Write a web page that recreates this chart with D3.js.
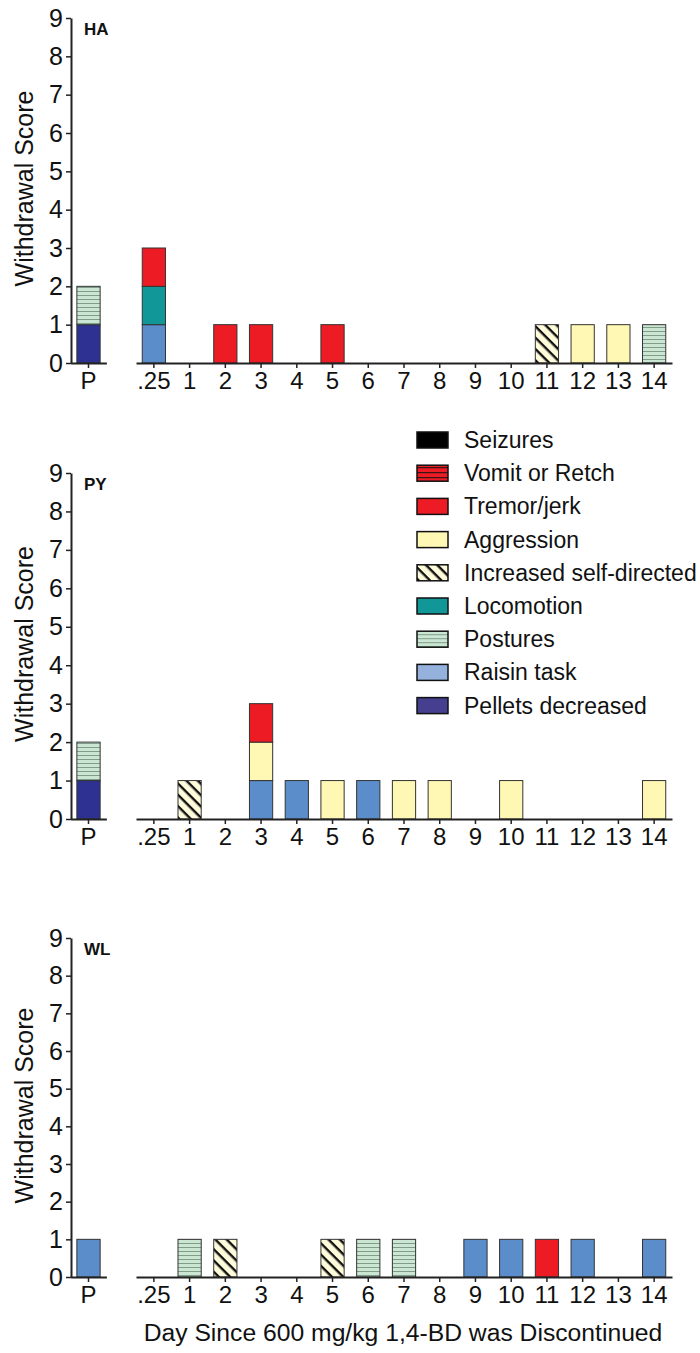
<!DOCTYPE html>
<html>
<head>
<meta charset="utf-8">
<script src="https://cdn.jsdelivr.net/npm/d3@7"></script>
<style>
  body { margin: 0; background: #fff; }
  svg { display: block; font-family: "Liberation Sans", Arial, sans-serif; }
</style>
</head>
<body>
<div id="chart"></div>
<script>
// x categories: P (pre) then days since discontinuation
const xLabels = ["P", ".25", "1", "2", "3", "4", "5", "6", "7", "8", "9", "10", "11", "12", "13", "14"];
const dayLabels = xLabels.slice(1);

// legend order (top to bottom); bars stack in reverse
const categories = ["Seizures", "Vomit or Retch", "Tremor/jerk", "Aggression", "Increased self-directed",
    "Locomotion", "Postures", "Raisin task", "Pellets decreased"];
const stackOrder = categories.slice().reverse();

const yTicks = [0, 1, 2, 3, 4, 5, 6, 7, 8, 9];

// scores per category, indexed like xLabels
const haScores = {
    "Pellets decreased":       [1, 0, 0, 0, 0, 0, 0, 0, 0, 0, 0, 0, 0, 0, 0, 0],
    "Raisin task":             [0, 1, 0, 0, 0, 0, 0, 0, 0, 0, 0, 0, 0, 0, 0, 0],
    "Postures":                [1, 0, 0, 0, 0, 0, 0, 0, 0, 0, 0, 0, 0, 0, 0, 1],
    "Locomotion":              [0, 1, 0, 0, 0, 0, 0, 0, 0, 0, 0, 0, 0, 0, 0, 0],
    "Increased self-directed": [0, 0, 0, 0, 0, 0, 0, 0, 0, 0, 0, 0, 1, 0, 0, 0],
    "Aggression":              [0, 0, 0, 0, 0, 0, 0, 0, 0, 0, 0, 0, 0, 1, 1, 0],
    "Tremor/jerk":             [0, 1, 0, 1, 1, 0, 1, 0, 0, 0, 0, 0, 0, 0, 0, 0]
};
const pyScores = {
    "Pellets decreased":       [1, 0, 0, 0, 0, 0, 0, 0, 0, 0, 0, 0, 0, 0, 0, 0],
    "Raisin task":             [0, 0, 0, 0, 1, 1, 0, 1, 0, 0, 0, 0, 0, 0, 0, 0],
    "Postures":                [1, 0, 0, 0, 0, 0, 0, 0, 0, 0, 0, 0, 0, 0, 0, 0],
    "Increased self-directed": [0, 0, 1, 0, 0, 0, 0, 0, 0, 0, 0, 0, 0, 0, 0, 0],
    "Aggression":              [0, 0, 0, 0, 1, 0, 1, 0, 1, 1, 0, 1, 0, 0, 0, 1],
    "Tremor/jerk":             [0, 0, 0, 0, 1, 0, 0, 0, 0, 0, 0, 0, 0, 0, 0, 0]
};
const wlScores = {
    "Raisin task":             [1, 0, 0, 0, 0, 0, 0, 0, 0, 0, 1, 1, 0, 1, 0, 1],
    "Postures":                [0, 0, 1, 0, 0, 0, 0, 1, 1, 0, 0, 0, 0, 0, 0, 0],
    "Increased self-directed": [0, 0, 0, 1, 0, 0, 1, 0, 0, 0, 0, 0, 0, 0, 0, 0],
    "Tremor/jerk":             [0, 0, 0, 0, 0, 0, 0, 0, 0, 0, 0, 0, 1, 0, 0, 0]
};

const width = 700, height = 1353;
const axisX = 71;

const svg = d3.select("#chart").append("svg")
    .attr("width", width)
    .attr("height", height);

// patterns
const defs = svg.append("defs");

const vomit = defs.append("pattern").attr("id", "pat-vomit")
    .attr("patternUnits", "userSpaceOnUse").attr("width", 8).attr("height", 5);
vomit.append("rect").attr("width", 8).attr("height", 5).attr("fill", "#ed1c24");
vomit.append("rect").attr("y", 4).attr("width", 8).attr("height", 1.3).attr("fill", "#111");

const postures = defs.append("pattern").attr("id", "pat-postures")
    .attr("patternUnits", "userSpaceOnUse").attr("width", 8).attr("height", 4);
postures.append("rect").attr("width", 8).attr("height", 4).attr("fill", "#cbe7d3");
postures.append("rect").attr("y", 3).attr("width", 8).attr("height", 1).attr("fill", "#7f9d89");

const selfDir = defs.append("pattern").attr("id", "pat-self")
    .attr("patternUnits", "userSpaceOnUse").attr("width", 8).attr("height", 8)
    .attr("patternTransform", "rotate(45)");
selfDir.append("rect").attr("width", 8).attr("height", 8).attr("fill", "#fffcdc");
selfDir.append("rect").attr("y", 3).attr("width", 8).attr("height", 2.4).attr("fill", "#111");

const barFill = {
    "Seizures": "#000000",
    "Vomit or Retch": "url(#pat-vomit)",
    "Tremor/jerk": "#ed1c24",
    "Aggression": "#fff8b4",
    "Increased self-directed": "url(#pat-self)",
    "Locomotion": "#119797",
    "Postures": "url(#pat-postures)",
    "Raisin task": "#5b8dca",
    "Pellets decreased": "#2e3192"
};
const legendFill = Object.assign({}, barFill, {
    "Raisin task": "#95b2dd",
    "Pellets decreased": "#463f8f"
});

const panels = [
    { name: "HA", scores: haScores, top: 18, bottom: 363 },
    { name: "PY", scores: pyScores, top: 473, bottom: 819 },
    { name: "WL", scores: wlScores, top: 938, bottom: 1277 }
];

const xP = d3.scaleBand().domain(["P"]).range([70.6, 106.4]).paddingInner(0.35).paddingOuter(0.175);
const xDay = d3.scaleBand().domain(dayLabels).range([136, 672]).paddingInner(0.35).paddingOuter(0.175);

panels.forEach(p => {
    const g = svg.append("g");
    const y = d3.scaleLinear().domain([0, 9]).range([p.bottom, p.top]);

    const rows = xLabels.map((lab, i) => ({ label: lab, i: i }));
    const series = d3.stack()
        .keys(stackOrder)
        .value((d, k) => p.scores[k] ? p.scores[k][d.i] : 0)(rows);

    series.forEach(s => {
        g.append("g").selectAll("rect")
            .data(s.filter(d => d[1] > d[0]))
            .join("rect")
            .attr("x", d => d.data.label === "P" ? xP(d.data.label) : xDay(d.data.label))
            .attr("width", d => d.data.label === "P" ? xP.bandwidth() : xDay.bandwidth())
            .attr("y", d => y(d[1]))
            .attr("height", d => y(d[0]) - y(d[1]))
            .attr("fill", barFill[s.key])
            .attr("stroke", "#333")
            .attr("stroke-width", 1);
    });

    // y axis
    const yAxis = g.append("g")
        .attr("transform", `translate(${axisX},0)`)
        .call(d3.axisLeft(y).tickValues(yTicks).tickFormat(d3.format("d")).tickSize(5).tickSizeOuter(0).tickPadding(3));

    // x axes
    const pAxis = g.append("g")
        .attr("transform", `translate(0,${p.bottom})`)
        .call(d3.axisBottom(xP).tickSize(5).tickSizeOuter(0).tickPadding(4));
    const dAxis = g.append("g")
        .attr("transform", `translate(0,${p.bottom})`)
        .call(d3.axisBottom(xDay).tickSize(5).tickSizeOuter(0).tickPadding(4));

    [yAxis, pAxis, dAxis].forEach(a => {
        a.select(".domain").attr("stroke", "#222").attr("stroke-width", 2);
        a.selectAll(".tick line").attr("stroke", "#222").attr("stroke-width", 1.5);
        a.selectAll(".tick text").attr("fill", "#111").attr("font-size", 24)
            .attr("font-family", "'Liberation Sans', Arial, sans-serif");
    });
    yAxis.selectAll(".tick text").attr("font-size", 25);

    g.append("text")
        .attr("x", 84)
        .attr("y", p.top + 17)
        .attr("font-size", 17)
        .attr("font-weight", "bold")
        .attr("fill", "#111")
        .text(p.name);

    g.append("text")
        .attr("transform", `translate(33,${(p.top + p.bottom) / 2 - 2}) rotate(-90)`)
        .attr("text-anchor", "middle")
        .attr("font-size", 25)
        .attr("fill", "#111")
        .text("Withdrawal Score");
});

// legend
const legend = svg.append("g").attr("transform", "translate(417,440)");
const item = legend.selectAll("g")
    .data(categories)
    .join("g")
    .attr("transform", (d, i) => `translate(0,${i * 33.2})`);
item.append("rect")
    .attr("x", 0).attr("y", -8)
    .attr("width", 31).attr("height", 16)
    .attr("fill", d => legendFill[d])
    .attr("stroke", "#111")
    .attr("stroke-width", 1.5);
item.append("text")
    .attr("x", 47)
    .attr("dy", "0.35em")
    .attr("font-size", 23)
    .attr("fill", "#111")
    .text(d => d);

// bottom axis title
svg.append("text")
    .attr("x", 403)
    .attr("y", 1341)
    .attr("text-anchor", "middle")
    .attr("font-size", 24.7)
    .attr("fill", "#111")
    .text("Day Since 600 mg/kg 1,4-BD was Discontinued");
</script>
</body>
</html>
